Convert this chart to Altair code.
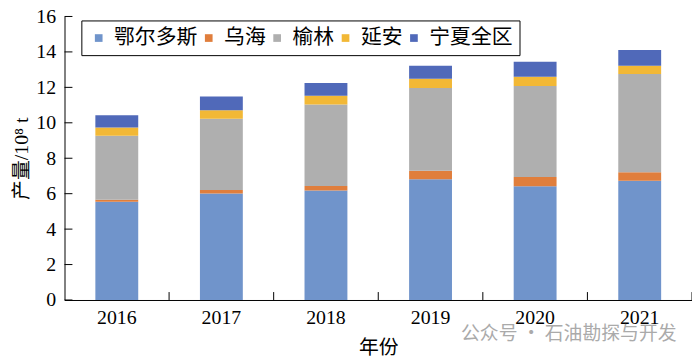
import altair as alt
import pandas as pd

years = ["2016", "2017", "2018", "2019", "2020", "2021"]
series = ["鄂尔多斯", "乌海", "榆林", "延安", "宁夏全区"]
ordos = [5.55, 6.01, 6.18, 6.81, 6.42, 6.73]
wuhai = [0.11, 0.20, 0.26, 0.48, 0.52, 0.48]
yulin = [3.61, 4.02, 4.59, 4.68, 5.14, 5.55]
yanan = [0.46, 0.48, 0.50, 0.52, 0.52, 0.46]
ningxia = [0.69, 0.78, 0.72, 0.73, 0.85, 0.89]
colors = ["#7094CB", "#E07E3C", "#AFAFAF", "#F2B836", "#5069B9"]
y_ticks = [0, 2, 4, 6, 8, 10, 12, 14, 16]

rows = []
for si, (name, vals) in enumerate(zip(series, [ordos, wuhai, yulin, yanan, ningxia])):
    for y, v in zip(years, vals):
        rows.append({"year": y, "series": name, "value": v, "idx": si})
df = pd.DataFrame(rows)

FONT = "'Liberation Serif', 'Noto Sans CJK SC'"
W, H = 633, 286

xscale = alt.Scale(paddingInner=0, paddingOuter=0)
yscale = alt.Scale(domain=[0, 16])


def xaxis():
    return alt.Axis(labelAngle=0, labelPadding=8, titlePadding=10)


def yaxis():
    return alt.Axis(values=y_ticks, labelOverlap=False, labelPadding=9, titlePadding=4)


bars = alt.Chart(df).mark_bar(width=alt.RelativeBandSize(0.41)).encode(
    x=alt.X("year:N", sort=years, scale=xscale, title="年份", axis=xaxis()),
    y=alt.Y("value:Q", stack="zero", scale=yscale, title="产量/10⁸ t", axis=yaxis()),
    color=alt.Color("series:N", sort=series,
                    scale=alt.Scale(domain=series, range=colors),
                    legend=alt.Legend(title=None, orient="none", legendX=17, legendY=4,
                                      direction="horizontal", columns=5,
                                      symbolType="square", symbolSize=60,
                                      symbolStrokeWidth=0,
                                      labelFontSize=21, labelFont=FONT, labelColor="black",
                                      labelOffset=5, columnPadding=1,
                                      padding=7, strokeColor="black")),
    order=alt.Order("idx:Q", sort="ascending"),
)

ytick_df = pd.DataFrame({"t": y_ticks})
yticks = alt.Chart(ytick_df).mark_rule(color="black", strokeWidth=1).encode(
    y=alt.Y("t:Q", scale=yscale, title="产量/10⁸ t", axis=yaxis()),
    x=alt.value(0), x2=alt.value(8),
)

xtick_df = pd.DataFrame({"year": years})
xticks = alt.Chart(xtick_df).mark_rule(color="black", strokeWidth=1).encode(
    x=alt.X("year:N", sort=years, scale=xscale, bandPosition=1, title="年份", axis=xaxis()),
    y=alt.value(H), y2=alt.value(H - 8),
)

wm = alt.Chart(pd.DataFrame({"a": [0]})).mark_text(
    align="left", baseline="middle", fontSize=19, color="#AAAAAA",
    font="'Noto Sans CJK SC'"
).encode(x=alt.value(400), y=alt.value(320), text=alt.value("公众号 · 石油勘探与开发"))

chart = alt.layer(bars, yticks, xticks, wm).properties(
    width=W, height=H,
    autosize=alt.AutoSizeParams(type="none"),
    padding={"left": 57, "top": 7, "right": 0, "bottom": 62},
).configure_axis(
    domainColor="black", domainWidth=1, ticks=False, grid=False,
    labelFont=FONT, labelFontSize=20, labelColor="black",
    titleFont=FONT, titleFontSize=20, titleFontWeight="normal", titleColor="black",
).configure_view(strokeWidth=0)

chart.save("out.html", embed_options={"renderer": "svg", "actions": False})
